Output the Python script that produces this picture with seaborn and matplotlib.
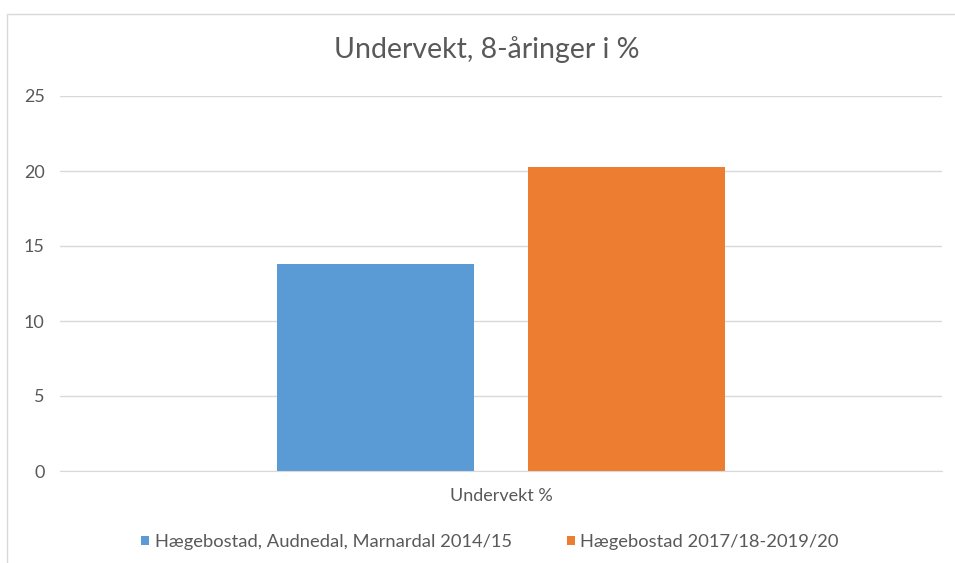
import matplotlib
matplotlib.use("Agg")
import matplotlib.pyplot as plt
from matplotlib.lines import Line2D
import pandas as pd
import seaborn as sns

category = ["Undervekt %"]
series = ["Hægebostad, Audnedal, Marnardal 2014/15", "Hægebostad 2017/18-2019/20"]
values = [13.8, 20.3]
colors = ["#5b9bd5", "#ed7d31"]
yticks = [0, 5, 10, 15, 20, 25]

df = pd.DataFrame({"cat": category * len(series), "serie": series, "verdi": values})

sns.set_style("white")
plt.rcParams["font.family"] = ["Lato", "DejaVu Sans"]

fig = plt.figure(figsize=(9.55, 5.63), dpi=100)
ax = fig.add_axes([60 / 955, 1 - 471 / 563, 882 / 955, 375 / 563])

sns.barplot(data=df, x="cat", y="verdi", hue="serie", palette=colors, saturation=1,
            width=0.57, gap=0.214, ax=ax, legend=True, edgecolor="none")

ax.set_ylim(0, 25)
ax.set_xlim(-0.5, 0.5)
ax.set_yticks(yticks)
ax.set_yticklabels([str(t) for t in yticks])
ax.yaxis.grid(True, color="#d9d9d9", linewidth=1)
ax.set_axisbelow(True)
for s in ["top", "right", "left"]:
    ax.spines[s].set_visible(False)
ax.spines["bottom"].set_color("#d9d9d9")
ax.tick_params(axis="both", length=0, colors="#595959", labelsize=13)
ax.tick_params(axis="y", pad=11)
ax.tick_params(axis="x", pad=12)
ax.set_xlabel("")
ax.set_ylabel("")

fig.text(0.51, 1 - 50 / 563, "Undervekt, 8-åringer i %", ha="center", va="center",
         fontsize=20.5, color="#595959")

leg = ax.legend(loc="center", bbox_to_anchor=(0.513, 1 - 542 / 563), bbox_transform=fig.transFigure,
                ncol=2, frameon=False, fontsize=13.2, handlelength=0.45, handleheight=0.45,
                columnspacing=3.0, handletextpad=0.3)
for t in leg.get_texts():
    t.set_color("#595959")

# chart border (top and left edges visible)
fig.add_artist(Line2D([7 / 955, 7 / 955], [0, 1 - 14 / 563], transform=fig.transFigure,
                      color="#d9d9d9", linewidth=1))
fig.add_artist(Line2D([7 / 955, 1], [1 - 14 / 563, 1 - 14 / 563], transform=fig.transFigure,
                      color="#d9d9d9", linewidth=1))

fig.savefig("out.png", dpi=100)
